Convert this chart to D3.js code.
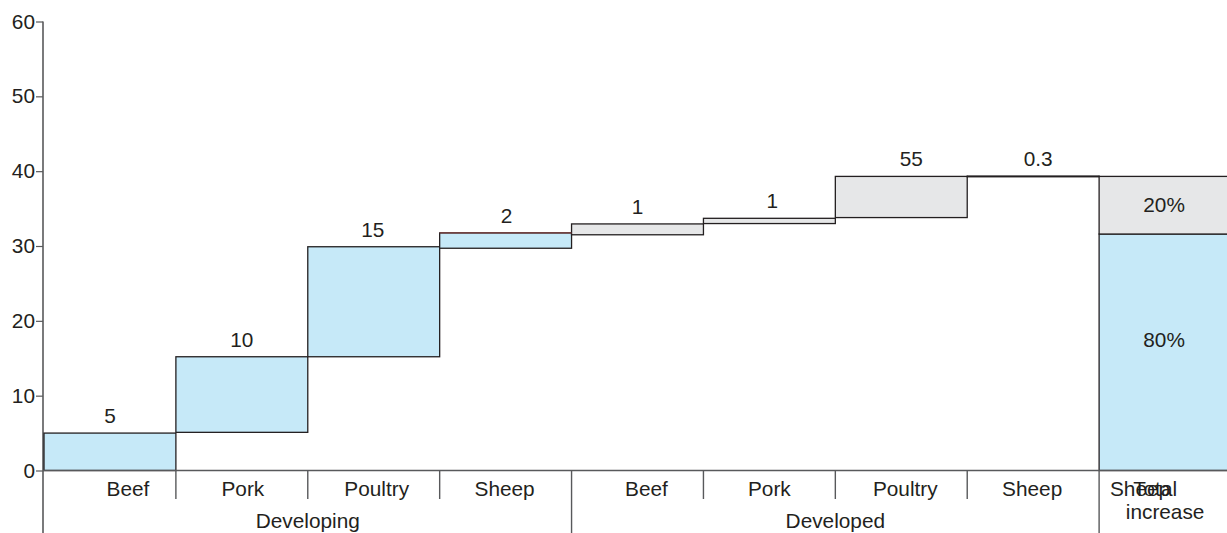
<!DOCTYPE html>
<html lang="en">
  <head>
    <meta charset="UTF-8" />
    <title>Meat increase waterfall</title>
    <script src="https://d3js.org/d3.v7.min.js"></script>
    <style>
      body { margin: 0; background: #fff; }
      svg { display: block; font-family: "Liberation Sans", Arial, sans-serif; }
    </style>
  </head>
  <body>
    <svg width="1227" height="533"></svg>
    <script>
      // data
      let categories = ["Beef", "Pork", "Poultry", "Sheep", "Beef", "Pork", "Poultry", "Sheep"];
      let groupOf = ["Developing", "Developing", "Developing", "Developing", "Developed", "Developed", "Developed", "Developed"];
      let groups = ["Developing", "Developed"];
      let barStart = [0, 5.1, 15.2, 29.7, 31.5, 33.0, 33.8, 39.25];
      let barEnd = [5.0, 15.2, 29.9, 31.75, 32.95, 33.7, 39.3, 39.35];
      let valueLabels = ["5", "10", "15", "2", "1", "1", "55", "0.3"];
      let totalLow = [0, 31.6];
      let totalHigh = [31.6, 39.3];
      let totalLabels = ["80%", "20%"];
      let yTicks = [0, 10, 20, 30, 40, 50, 60];

      let blue = "#c6e9f8", grey = "#e6e7e8", ink = "#231f20", axisCol = "#58595b";
      let fs = "20.8px";

      let svg = d3.select("svg");
      let slots = d3.range(9);
      // last slot runs past the right edge
      let x = d3.scaleBand().domain(slots).range([44, 1231]).padding(0);
      let y = d3.scaleLinear().domain([0, 60]).range([470.5, 21.5]);

      // y axis
      let yAxis = svg.append("g").attr("transform", "translate(43,0)")
        .call(d3.axisLeft(y).tickValues(yTicks).tickSize(7).tickPadding(1));
      yAxis.select(".domain").remove();
      yAxis.selectAll(".tick line").attr("stroke", axisCol).attr("stroke-width", 1.2);
      yAxis.selectAll("text").attr("font-size", fs).attr("fill", ink)
        .attr("font-family", "Liberation Sans, Arial, sans-serif");
      svg.append("line").attr("x1", 43).attr("x2", 43).attr("y1", y(60)).attr("y2", 533)
        .attr("stroke", axisCol).attr("stroke-width", 1.6);

      // waterfall bars
      svg.append("g").selectAll("rect").data(categories).join("rect")
        .attr("x", (d, i) => x(i))
        .attr("width", x.bandwidth())
        .attr("y", (d, i) => y(barEnd[i]))
        .attr("height", (d, i) => Math.max(0.5, y(barStart[i]) - y(barEnd[i])))
        .attr("fill", (d, i) => groupOf[i] === "Developing" ? blue : grey)
        .attr("stroke", ink).attr("stroke-width", 1.3);

      // red-brown top edge on the developing sheep step
      svg.append("line").attr("x1", x(3)).attr("x2", x(3) + x.bandwidth())
        .attr("y1", y(barEnd[3])).attr("y2", y(barEnd[3]))
        .attr("stroke", "#7a3b3b").attr("stroke-width", 1.3);

      // total column
      svg.append("g").selectAll("rect").data(totalLabels).join("rect")
        .attr("x", x(8))
        .attr("width", x.bandwidth() + 2)
        .attr("y", (d, i) => y(totalHigh[i]))
        .attr("height", (d, i) => y(totalLow[i]) - y(totalHigh[i]))
        .attr("fill", (d, i) => i === 0 ? blue : grey)
        .attr("stroke", ink).attr("stroke-width", 1.3);
      svg.append("g").selectAll("text").data(totalLabels).join("text")
        .attr("x", x(8) + 65)
        .attr("y", (d, i) => i === 0
          ? y(totalLow[i]) - (y(totalLow[i]) - y(totalHigh[i])) * 0.55 + 7
          : (y(totalLow[i]) + y(totalHigh[i])) / 2 + 7)
        .attr("text-anchor", "middle").attr("font-size", fs).attr("fill", ink)
        .text(d => d);

      // value labels
      let valNudge = [0, 0, -1, 1, 0, 3, 10, 5];
      svg.append("g").selectAll("text").data(valueLabels).join("text")
        .attr("x", (d, i) => x(i) + x.bandwidth() / 2 + valNudge[i])
        .attr("y", (d, i) => y(barEnd[i]) - 10)
        .attr("text-anchor", "middle").attr("font-size", fs).attr("fill", ink)
        .text(d => d);

      // x axis line
      svg.append("line").attr("x1", 43).attr("x2", 1227).attr("y1", y(0)).attr("y2", y(0))
        .attr("stroke", axisCol).attr("stroke-width", 1.5);

      // separators between categories
      let seps = d3.range(1, 9);
      svg.append("g").selectAll("line").data(seps).join("line")
        .attr("x1", d => x(d)).attr("x2", d => x(d))
        .attr("y1", y(0))
        .attr("y2", d => (d === 4 || d === 8) ? 533 : 499)
        .attr("stroke", axisCol).attr("stroke-width", 1.4);

      // category labels (the total slot keeps a stray "Sheep" under "Total")
      let axisLabels = categories.concat(["Sheep"]);
      let nudge = [18, 1, 3, -1, 9, 0, 4, -1, -25];
      svg.append("g").selectAll("text").data(axisLabels).join("text")
        .attr("x", (d, i) => x(i) + x.bandwidth() / 2 + nudge[i])
        .attr("y", 496)
        .attr("text-anchor", "middle").attr("font-size", fs).attr("fill", ink)
        .text(d => d);

      svg.append("text").attr("x", x(8) + 56).attr("y", 496)
        .attr("text-anchor", "middle").attr("font-size", fs).attr("fill", ink).text("Total");
      svg.append("text").attr("x", x(8) + 66).attr("y", 519)
        .attr("text-anchor", "middle").attr("font-size", fs).attr("fill", ink).text("increase");

      // group labels
      svg.append("g").selectAll("text").data(groups).join("text")
        .attr("x", g => {
          let idx = d3.range(8).filter(i => groupOf[i] === g);
          return (x(idx[0]) + x(idx[idx.length - 1]) + x.bandwidth()) / 2;
        })
        .attr("y", 528)
        .attr("text-anchor", "middle").attr("font-size", fs).attr("fill", ink)
        .text(d => d);
    </script>
  </body>
</html>
